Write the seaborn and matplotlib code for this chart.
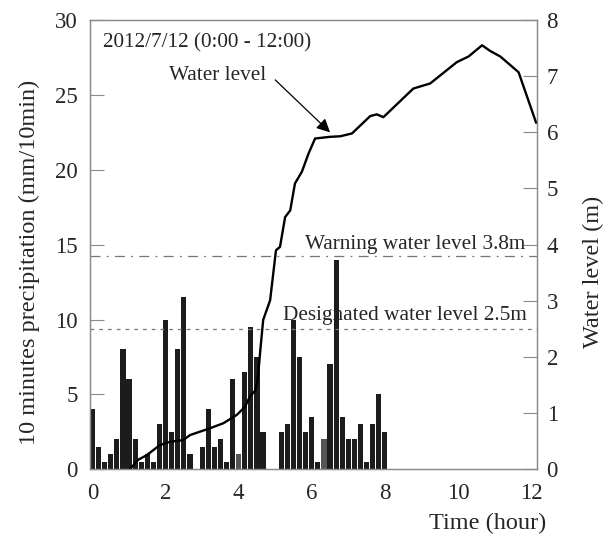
import matplotlib
matplotlib.use("Agg")
import matplotlib.pyplot as plt
import seaborn as sns
import numpy as np
import pandas as pd

# 10-minute precipitation (mm/10min), one value per 10-minute step from 0:00
precip = [4.0, 1.5, 0.5, 1.0, 2.0, 8.0, 6.0, 2.0, 0.5, 1.0, 0.5, 3.0,
          10.0, 2.5, 8.0, 11.5, 1.0, 0.0, 1.5, 4.0, 1.5, 2.0, 0.5, 6.0,
          1.0, 6.5, 9.5, 7.5, 2.5, 0.0, 0.0, 2.5, 3.0, 10.0, 7.5, 2.5,
          3.5, 0.5, 2.0, 7.0, 14.0, 3.5, 2.0, 2.0, 3.0, 0.5, 3.0, 5.0, 2.5]
# gauge flag per step: "b" = main record, "g" = supplementary record
gauge = ["b"] * len(precip)
gauge[24] = "g"
gauge[38] = "g"

# water level (m) over time (hour)
level_t = [1.02, 1.25, 1.48, 1.84, 2.12, 2.48, 2.67, 3.21, 3.58, 3.95, 4.17,
           4.31, 4.45, 4.52, 4.60, 4.67, 4.86, 5.02, 5.13, 5.27, 5.41, 5.54,
           5.73, 5.91, 6.09, 6.50, 6.78, 7.10, 7.60, 7.78, 7.96, 8.78, 9.24,
           9.97, 10.29, 10.66, 10.88, 11.16, 11.66, 12.14]
level_h = [0.0, 0.17, 0.25, 0.43, 0.49, 0.52, 0.61, 0.73, 0.82, 0.97, 1.11,
           1.30, 1.40, 1.60, 2.18, 2.66, 3.01, 3.90, 3.96, 4.49, 4.61, 5.09,
           5.30, 5.62, 5.89, 5.92, 5.93, 5.98, 6.29, 6.32, 6.27, 6.78, 6.87,
           7.25, 7.35, 7.55, 7.45, 7.35, 7.07, 6.17]

warning_level = 3.8
designated_level = 2.5

x_ticks = [0, 2, 4, 6, 8, 10, 12]
left_ticks = [0, 5, 10, 15, 20, 25, 30]
right_ticks = [0, 1, 2, 3, 4, 5, 6, 7, 8]

sns.set_theme(style="white")
plt.rcParams["font.family"] = ["Liberation Serif", "DejaVu Serif"]

FS_TXT = 15.3
FS_TICK = 16.5
FS_LAB = 17.5
SPINE = "#8a8a8a"

fig = plt.figure(figsize=(6.08, 5.35), dpi=100)
ax = fig.add_axes([0.148, 0.1228, 0.883 - 0.148, 0.9626 - 0.1228])

df = pd.DataFrame({"t": np.arange(len(precip)) / 6.0,
                   "p": precip, "gauge": gauge})
sns.barplot(data=df, x="t", y="p", hue="gauge", native_scale=True,
            dodge=False, palette={"b": "#1c1c1c", "g": "#555555"},
            width=0.85, saturation=1, linewidth=0, legend=False, ax=ax)

ax.set_xlim(-0.07, 12.16)
ax.set_ylim(0, 30)
ax.set_xticks(x_ticks)
ax.set_xticklabels([str(v) for v in x_ticks])
ax.set_yticks(left_ticks)
ax.set_ylabel("10 minutes precipitation (mm/10min)", fontsize=FS_LAB)
ax.yaxis.set_label_coords(-0.112, 0.46)

ax2 = ax.twinx()
ax2.set_ylim(0, 8)
ax2.set_yticks(right_ticks)
ax2.axhline(warning_level, color="#777777", lw=0.9, ls=(0, (8, 5, 1.5, 5)))
ax2.axhline(designated_level, color="#777777", lw=0.9, ls=(0, (3, 4)))
sns.lineplot(x=level_t, y=level_h, sort=False, color="black", lw=1.7,
             ax=ax2)
ax2.set_ylabel("Water level (m)", fontsize=FS_LAB)
ax2.yaxis.set_label_coords(1.103, 0.44)

for a in (ax, ax2):
    for s in a.spines.values():
        s.set_color(SPINE)
        s.set_linewidth(0.9)
ax.tick_params(axis="both", direction="in", length=10, width=0.8,
               color=SPINE, labelsize=FS_TICK, pad=10)
ax.tick_params(axis="y", pad=9)
ax2.tick_params(axis="y", direction="in", length=10, width=0.8,
                color=SPINE, labelsize=FS_TICK, pad=7)

ax.text(0.28, 28.45, "2012/7/12 (0:00 - 12:00)", fontsize=FS_TXT,
        ha="left", va="center")
ax.text(3.43, 26.3, "Water level", fontsize=FS_TXT, ha="center",
        va="center")
ax.annotate("", xy=(6.5, 22.5), xytext=(5.0, 26.0),
            arrowprops=dict(arrowstyle="-|>", color="black", lw=0.9,
                            mutation_scale=20, shrinkA=0, shrinkB=0))
ax2.text(11.85, 4.0, "Warning water level 3.8m", fontsize=FS_TXT,
         ha="right", va="center")
ax2.text(11.9, 2.73, "Designated water level 2.5m", fontsize=FS_TXT,
         ha="right", va="center")

ax.set_xlabel("Time (hour)", fontsize=FS_LAB)
ax.xaxis.set_label_coords(1.02, -0.097)
ax.xaxis.label.set_horizontalalignment("right")

fig.savefig("out.png", dpi=100)
